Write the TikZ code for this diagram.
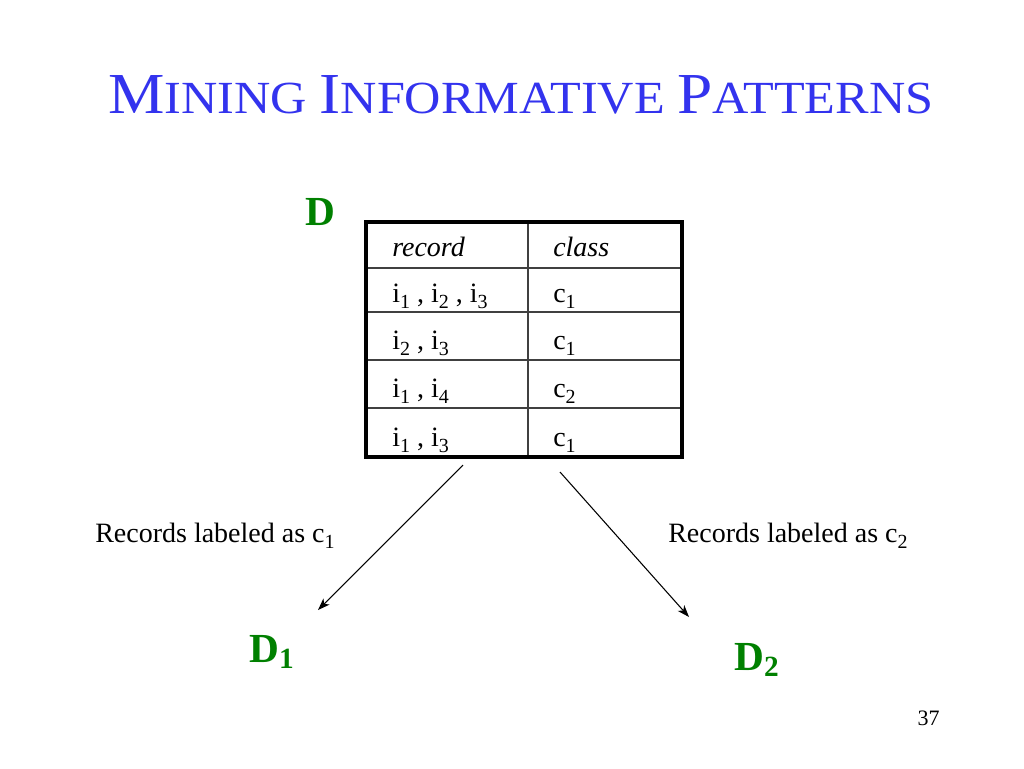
\documentclass[tikz,border=0pt]{standalone}
\usepackage{fontspec}
\setmainfont{Liberation Serif}
\usetikzlibrary{positioning,arrows,arrows.meta,calc}

\definecolor{titleblue}{RGB}{51,51,238}
\definecolor{setgreen}{RGB}{0,128,0}
\newcommand{\capbig}[1]{{\fontsize{43.5pt}{44pt}\selectfont #1}}
\newcommand{\capsmall}[1]{{\fontsize{34.5pt}{35pt}\selectfont #1}}
\newcommand{\sub}[2][15pt]{\raisebox{-4.5pt}{\fontsize{#1}{#1}\selectfont #2}}

\begin{document}
\begin{tikzpicture}[x=0.75pt,y=-0.75pt,
    cell/.style={anchor=base west,inner sep=0pt,font=\fontsize{21pt}{24pt}\selectfont},
    setname/.style={anchor=base west,inner sep=0pt,text=setgreen,font=\fontsize{31pt}{34pt}\selectfont\bfseries},
    frame/.style={line width=2.4pt},
    rowline/.style={line width=0.8pt,black!75},
    arr/.style={-{Stealth[length=9pt,width=6.5pt,inset=2.5pt]},line width=0.8pt}]
  \useasboundingbox (0,0) rectangle (1024,768);
  % title
  \node[anchor=base west,inner sep=0pt,text=titleblue] (title) at (108,113)
    {\scalebox{1.093}[1]{\capbig{M}\capsmall{INING }\capbig{I}\capsmall{NFORMATIVE }\capbig{P}\capsmall{ATTERNS}}};
  % the data set D
  \node[setname] (D) at (305,225) {D};
  \foreach \y in {268,312,360,408} {
    \draw[rowline] (366,\y) -- (682,\y);
  }
  \draw[rowline] (528,222) -- (528,457);
  \draw[frame] (366,222) rectangle (682,457);
  \node[cell] (hrec) at (392,256) {\textit{record}};
  \node[cell] (hcls) at (553,256) {\textit{class}};
  \foreach \y/\rec/\cls [count=\i] in {302/{i\sub{1} , i\sub{2} , i\sub{3}}/1,
      349/{i\sub{2} , i\sub{3}}/1,
      397/{i\sub{1} , i\sub{4}}/2,
      446/{i\sub{1} , i\sub{3}}/1} {
    \node[cell] (rec\i) at (392,\y) {\rec};
    \node[cell] (cls\i) at (553,\y) {c\sub{\cls}};
  }
  % split by class
  \coordinate (from1) at (463,465);
  \coordinate (to1) at (318,610);
  \coordinate (from2) at (560,472);
  \coordinate (to2) at (689,617);
  \draw[arr] (from1) -- (to1);
  \draw[arr] (from2) -- (to2);
  \node[cell] (lab1) at (95,542) {Records labeled as c\sub{1}};
  \node[cell] (lab2) at (668,542) {Records labeled as c\sub{2}};
  \node[setname] (D1) at (249,662) {D\sub[22pt]{1}};
  \node[setname] (D2) at (734,670) {D\sub[22pt]{2}};
  \node[anchor=base east,inner sep=0pt,font=\fontsize{16.5pt}{18pt}\selectfont] (page) at (940,725) {37};
\end{tikzpicture}
\end{document}
